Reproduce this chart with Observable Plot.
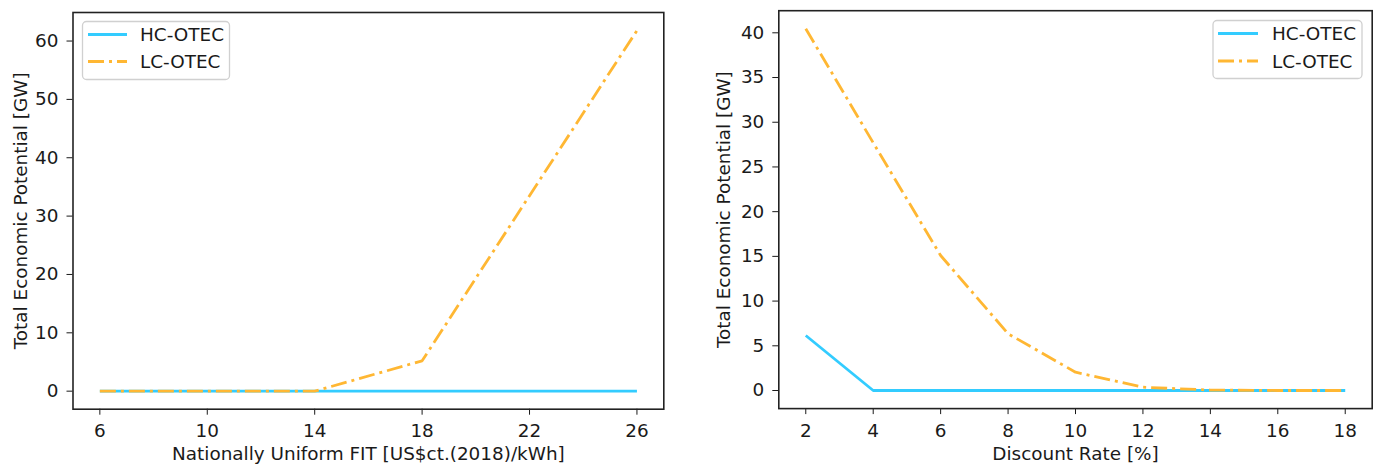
<!DOCTYPE html>
<html>
<head>
<meta charset="utf-8">
<script src="https://cdn.jsdelivr.net/npm/d3@7"></script>
<script src="https://cdn.jsdelivr.net/npm/@observablehq/plot@0.6"></script>
<style>
  body { margin: 0; background: #fff; }
  #wrap { position: relative; width: 1380px; height: 464px; font-family: "DejaVu Sans", sans-serif; overflow: hidden; }
  .panel { position: absolute; top: 0; }
  #legend { position: absolute; left: 0; top: 0; pointer-events: none; }
</style>
</head>
<body>
<div id="wrap"></div>
<script>
// ---- data ----
const seriesNames = ["HC-OTEC", "LC-OTEC"];
const fitX  = [6, 10, 14, 18, 22, 26];
const fitHC = [0, 0, 0, 0, 0, 0];
const fitLC = [0, 0, 0, 5.2, 33.5, 61.8];
const rateX  = [2, 4, 6, 8, 10, 12, 14, 16, 18];
const rateHC = [6.15, 0, 0, 0, 0, 0, 0, 0, 0];
const rateLC = [40.45, 27.7, 15.1, 6.35, 2.05, 0.37, 0.05, 0, 0];
const fitXTicks  = [6, 10, 14, 18, 22, 26];
const fitYTicks  = [0, 10, 20, 30, 40, 50, 60];
const rateXTicks = [2, 4, 6, 8, 10, 12, 14, 16, 18];
const rateYTicks = [0, 5, 10, 15, 20, 25, 30, 35, 40];
const xLabels = ["Nationally Uniform FIT [US$ct.(2018)/kWh]", "Discount Rate [%]"];
const yLabel = "Total Economic Potential [GW]";

// ---- styles ----
const colors = {"HC-OTEC": "#33ccff", "LC-OTEC": "#ffb733"};
const dashes = {"HC-OTEC": null, "LC-OTEC": "16,5,3,5"};
const FONT = "DejaVu Sans";
const FS = 18.4;

function pad(vals) {
  const lo = d3.min(vals), hi = d3.max(vals), m = (hi - lo) * 0.05;
  return [lo - m, hi + m];
}

function makePanel(xs, hc, lc, xt, yt, xlabel, m) {
  const rows = [
    ...xs.map((v, i) => ({x: v, y: hc[i], s: seriesNames[0]})),
    ...xs.map((v, i) => ({x: v, y: lc[i], s: seriesNames[1]}))
  ];
  const lines = seriesNames.map(s => Plot.line(rows.filter(d => d.s === s), {
    x: "x", y: "y",
    stroke: colors[s], strokeWidth: 2.8,
    strokeDasharray: dashes[s] || undefined,
    strokeLinejoin: "round", strokeLinecap: "butt"
  }));
  return Plot.plot({
    width: 690, height: 464,
    marginLeft: m.l, marginRight: m.r, marginTop: m.t, marginBottom: m.b,
    style: {fontFamily: FONT, fontSize: FS + "px", color: "#1a1a1a", background: "transparent", overflow: "visible"},
    x: {domain: pad(xs)},
    y: {domain: pad([...hc, ...lc])},
    marks: [
      Plot.axisX({ticks: xt, tickFormat: d => String(d), tickSize: 6, tickPadding: 9, fontSize: FS,
        label: xlabel, labelAnchor: "center", labelArrow: "none", labelOffset: m.xlo, stroke: "#1a1a1a"}),
      Plot.axisY({ticks: yt, tickFormat: d => String(d), tickSize: 6, tickPadding: 8.5, fontSize: FS,
        label: yLabel, labelAnchor: "center", labelArrow: "none", labelOffset: m.ylo, stroke: "#1a1a1a"}),
      ...lines,
      Plot.frame({stroke: "#222", strokeWidth: 1.6})
    ]
  });
}

const wrap = document.getElementById("wrap");
const left = makePanel(fitX, fitHC, fitLC, fitXTicks, fitYTicks, xLabels[0],
  {l: 72.5, r: 26.7, t: 12, b: 55.3, xlo: 51, ylo: 59.5});
left.classList.add("panel");
left.style.left = "0px";
wrap.appendChild(left);

const right = makePanel(rateX, rateHC, rateLC, rateXTicks, rateYTicks, xLabels[1],
  {l: 88.3, r: 8.3, t: 10.2, b: 55.9, xlo: 51, ylo: 62});
right.classList.add("panel");
right.style.left = "690px";
wrap.appendChild(right);

// ---- legends ----
const svg = d3.select(wrap).append("svg").attr("id", "legend").attr("width", 1380).attr("height", 464);
function legend(bx, by, bw, bh, lx0, lx1, tx, ys) {
  svg.append("rect").attr("x", bx).attr("y", by).attr("width", bw).attr("height", bh)
    .attr("rx", 4).attr("fill", "white").attr("fill-opacity", 0.85)
    .attr("stroke", "#d0d0d0").attr("stroke-width", 1.3);
  seriesNames.forEach((s, i) => {
    svg.append("line").attr("x1", lx0).attr("x2", lx1).attr("y1", ys[i]).attr("y2", ys[i])
      .attr("stroke", colors[s]).attr("stroke-width", 2.8)
      .attr("stroke-dasharray", dashes[s]);
    svg.append("text").attr("x", tx).attr("y", ys[i]).attr("dy", "0.36em")
      .attr("font-family", FONT).attr("font-size", FS).attr("fill", "#1a1a1a").text(s);
  });
}
legend(82.5, 21.5, 147, 58, 88, 127, 140, [34.5, 61.5]);
legend(1213, 20.5, 149, 58, 1218, 1258, 1272, [33.5, 61]);
</script>
</body>
</html>
